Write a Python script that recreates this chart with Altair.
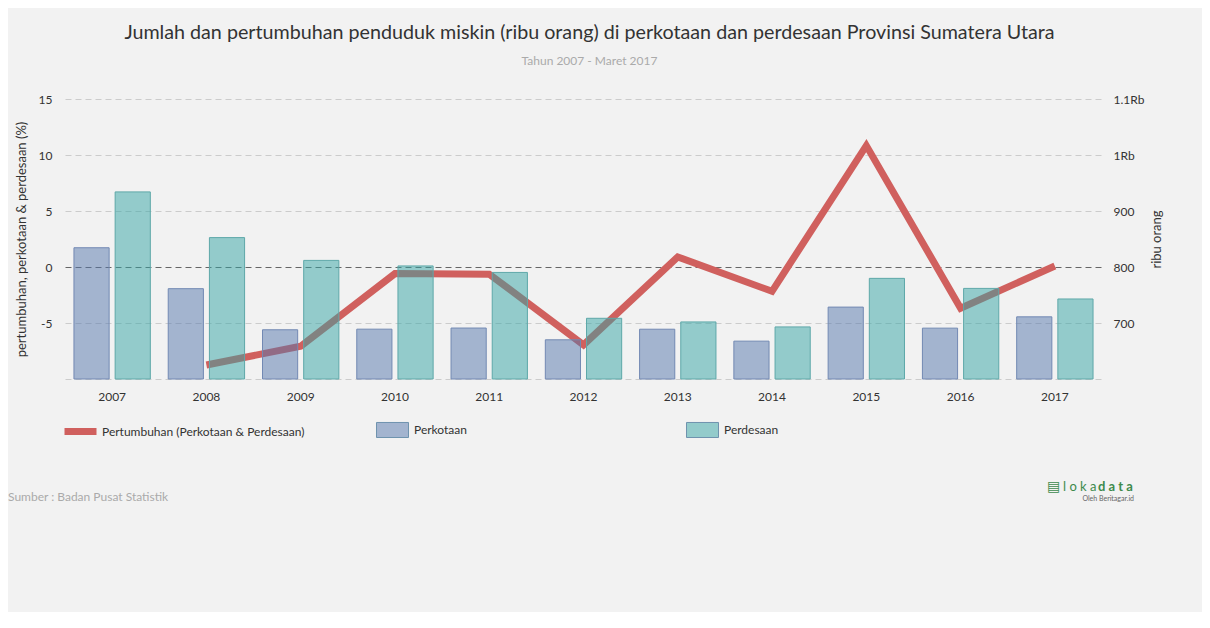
import altair as alt
import pandas as pd

years = ['2007', '2008', '2009', '2010', '2011', '2012', '2013', '2014', '2015', '2016', '2017']
perkotaan = [834.4, 761.3, 687.9, 689.0, 691.0, 670.0, 688.9, 667.6, 728.4, 690.8, 711.0]
perdesaan = [934.1, 852.5, 811.8, 801.9, 790.3, 708.4, 701.9, 693.0, 779.7, 761.8, 742.9]
growth_years = ['2008', '2009', '2010', '2011', '2012', '2013', '2014', '2015', '2016', '2017']
growth = [-8.75, -7.07, -0.59, -0.64, -6.95, 0.90, -2.17, 10.84, -3.68, 0.09]

line_name = 'Pertumbuhan (Perkotaan & Perdesaan)'
bar_series = ['Perkotaan', 'Perdesaan']
left_ticks = [-10, -5, 0, 5, 10, 15]
right_ticks = [600, 700, 800, 900, 1000, 1100]

bars_df = pd.DataFrame({
    'tahun': years * 2,
    'seri': ['Perkotaan'] * len(years) + ['Perdesaan'] * len(years),
    'nilai': perkotaan + perdesaan,
})
line_df = pd.DataFrame({'tahun': growth_years, 'seri': [line_name] * len(growth_years), 'pertumbuhan': growth})

x_enc = alt.X('tahun:N', sort=years,
              scale=alt.Scale(domain=years, paddingInner=0.19, paddingOuter=0.095),
              axis=alt.Axis(title=None, labelAngle=0, domain=False, ticks=False, grid=False,
                            labelPadding=12, labelFontSize=12, labelColor='#333333'))

line = alt.Chart(line_df).mark_line(strokeWidth=7, strokeJoin='miter', strokeCap='butt').encode(
    x=x_enc,
    y=alt.Y('pertumbuhan:Q',
            scale=alt.Scale(domain=[-10, 15], nice=False, zero=False),
            axis=alt.Axis(title='pertumbuhan, perkotaan & perdesaan (%)', values=left_ticks,
                          labelExpr="datum.value == -10 ? '' : toString(datum.value)",
                          domain=False, ticks=False, grid=True, gridDash=[6, 4], gridWidth=1,
                          gridColor={'condition': {'test': 'datum.value === 0', 'value': '#666666'}, 'value': '#cccccc'},
                          labelPadding=13, labelFontSize=12, labelColor='#333333',
                          titleFontSize=13, titleFontWeight='normal', titleColor='#333333', titlePadding=10)),
    stroke=alt.Stroke('seri:N', scale=alt.Scale(domain=[line_name], range=['#d0605e']),
                      legend=alt.Legend(title=None, orient='none', legendX=-4, legendY=313,
                                        symbolType='stroke', symbolSize=1024, symbolStrokeWidth=7,
                                        labelOffset=2, labelLimit=400,
                                        labelFontSize=12, labelColor='#333333')),
)

bars = alt.Chart(bars_df).mark_bar(strokeWidth=1).encode(
    x=x_enc,
    xOffset=alt.XOffset('seri:N', sort=bar_series,
                        scale=alt.Scale(domain=bar_series, paddingInner=0.146, paddingOuter=0)),
    y=alt.Y('nilai:Q',
            scale=alt.Scale(domain=[600, 1100], nice=False, zero=False),
            axis=alt.Axis(orient='right', title='ribu orang', values=right_ticks,
                          labelExpr="datum.value == 1100 ? '1.1Rb' : datum.value == 1000 ? '1Rb' : datum.value == 600 ? '' : toString(datum.value)",
                          domain=False, ticks=False, grid=False,
                          labelPadding=11, labelFontSize=12, labelColor='#333333',
                          titleFontSize=13, titleFontWeight='normal', titleColor='#333333',
                          titlePadding=20, titleAngle=270)),
    y2=alt.datum(600),
    fill=alt.Fill('seri:N', sort=bar_series,
                  scale=alt.Scale(domain=bar_series, range=['rgba(84,118,172,0.5)', 'rgba(52,164,164,0.5)']),
                  legend=alt.Legend(title=None, orient='none', legendX=311, legendY=314,
                                    direction='horizontal', columnPadding=217,
                                    symbolType='M-1,-0.47H1V0.47H-1Z', symbolSize=1024,
                                    symbolStrokeColor='#6f93ae', symbolStrokeWidth=1,
                                    labelOffset=5, labelLimit=400,
                                    labelFontSize=12, labelColor='#333333')),
    stroke=alt.condition(alt.datum.seri == 'Perkotaan', alt.value('#7289b3'), alt.value('#5ea8a9')),
)

one = pd.DataFrame({'t': ['Sumber : Badan Pusat Statistik']})
source = alt.Chart(one).mark_text(align='left', baseline='middle', fontSize=12, color='#aaaaaa').encode(
    x=alt.value(-57), y=alt.value(398), text='t:N')

logo_icon = alt.Chart(pd.DataFrame({'t': ['▤']})).mark_text(
    align='left', baseline='middle', fontSize=14, color='#3d8a4c', font='DejaVu Sans').encode(
    x=alt.value(982), y=alt.value(388), text='t:N')
logo_a = alt.Chart(pd.DataFrame({'t': ['l o k a']})).mark_text(
    align='left', baseline='middle', fontSize=13, color='#3d8a4c').encode(
    x=alt.value(998), y=alt.value(388), text='t:N')
logo_b = alt.Chart(pd.DataFrame({'t': ['d a t a']})).mark_text(
    align='left', baseline='middle', fontSize=13, fontWeight='bold', color='#3d8a4c').encode(
    x=alt.value(1033), y=alt.value(388), text='t:N')
logo_c = alt.Chart(pd.DataFrame({'t': ['Oleh Beritagar.id']})).mark_text(
    align='right', baseline='middle', fontSize=7, color='#666666').encode(
    x=alt.value(1069), y=alt.value(400), text='t:N')

chart = alt.layer(line, bars, source, logo_icon, logo_a, logo_b, logo_c).resolve_scale(
    y='independent'
).properties(
    width=1037, height=280,
    padding={'left': 57, 'top': 91, 'right': 100, 'bottom': 233},
    autosize=alt.AutoSizeParams(type='none'),
    background='#f2f2f2',
    title=alt.TitleParams(
        text='Jumlah dan pertumbuhan penduduk miskin (ribu orang) di perkotaan dan perdesaan Provinsi Sumatera Utara',
        subtitle='Tahun 2007 - Maret 2017',
        anchor='middle', fontSize=19.7, fontWeight='normal', color='#333333',
        subtitleFontSize=12, subtitleColor='#aaaaaa', subtitlePadding=13, offset=26, dx=6),
).configure(
    font='Lato'
).configure_view(stroke=None)

chart.save('out.html', embed_options={'renderer': 'svg', 'actions': False})
